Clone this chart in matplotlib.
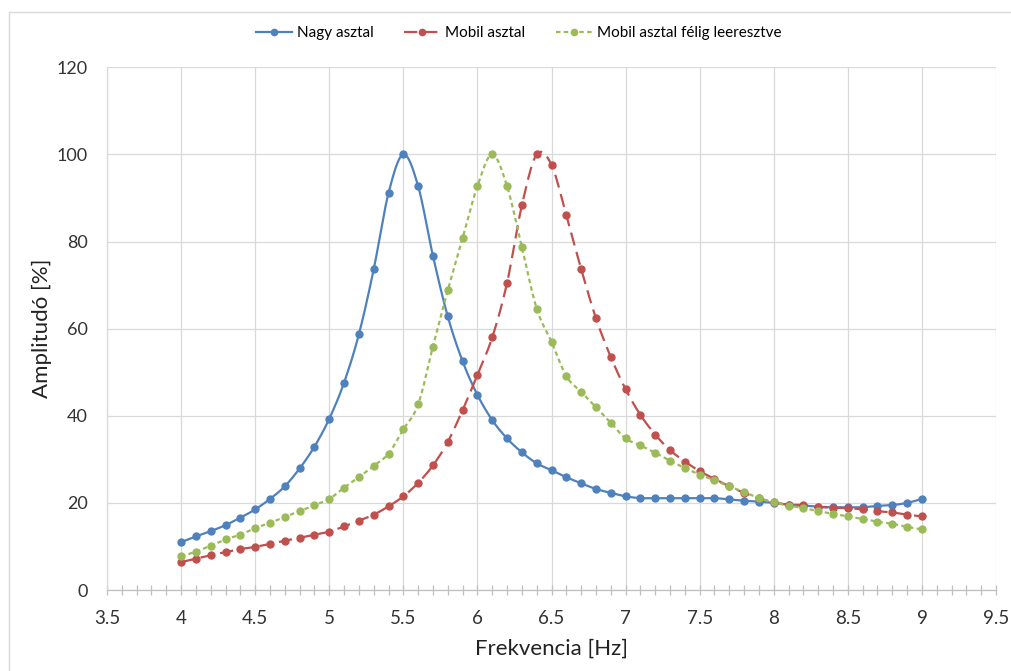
import numpy as np
import matplotlib
matplotlib.use("Agg")
import matplotlib.pyplot as plt
from matplotlib.lines import Line2D
from matplotlib.ticker import MultipleLocator

plt.rcParams['font.family'] = ['Lato', 'DejaVu Sans']

# --- data: amplitude vs. excitation frequency ---
freq = np.round(np.arange(4.0, 9.0001, 0.1), 1)

nagy_asztal = [
    11.0, 12.3, 13.5, 14.9, 16.6, 18.5, 20.9, 23.8, 27.9, 32.9,
    39.3, 47.6, 58.7, 73.6, 91.1, 100.0, 92.7, 76.7, 62.8, 52.5,
    44.8, 39.0, 34.8, 31.6, 29.1, 27.5, 25.9, 24.5, 23.2, 22.3,
    21.5, 21.1, 21.1, 21.1, 21.1, 21.1, 21.1, 20.8, 20.5, 20.3,
    20.0, 19.6, 19.4, 19.1, 19.0, 19.0, 19.0, 19.3, 19.5, 20.0,
    20.9,
]
mobil_asztal = [
    6.4, 7.2, 8.0, 8.7, 9.4, 9.9, 10.6, 11.3, 12.0, 12.7,
    13.4, 14.6, 15.9, 17.3, 19.2, 21.5, 24.6, 28.6, 34.0, 41.3,
    49.4, 58.0, 70.5, 88.3, 100.0, 97.6, 86.0, 73.7, 62.4, 53.5,
    46.1, 40.2, 35.7, 32.1, 29.5, 27.3, 25.5, 23.8, 22.3, 21.1,
    20.1, 19.6, 19.5, 19.1, 18.9, 18.8, 18.5, 18.1, 17.8, 17.3,
    16.9,
]
mobil_felig = [
    7.7, 8.8, 10.2, 11.6, 12.7, 14.2, 15.4, 16.8, 18.1, 19.5,
    20.9, 23.5, 25.9, 28.5, 31.3, 36.9, 42.6, 55.9, 68.8, 80.8,
    92.7, 100.0, 92.7, 78.7, 64.6, 57.0, 49.1, 45.5, 42.0, 38.4,
    34.8, 33.2, 31.5, 29.7, 28.0, 26.5, 25.2, 23.8, 22.5, 21.1,
    20.1, 19.4, 18.8, 18.1, 17.5, 16.9, 16.3, 15.7, 15.2, 14.5,
    13.9,
]

labels = ['Nagy asztal', 'Mobil asztal', 'Mobil asztal félig leeresztve']
colors = ['#4f81bd', '#c0504d', '#9bbb59']
styles = [dict(linestyle='-'),
          dict(linestyle=(0, (6, 3))),
          dict(linestyle=(0, (2, 1.5)))]

SUB = 10  # segments per interval for the smoothed line


def smooth(x, y, n=SUB):
    # Catmull-Rom spline through the measured points (Excel-like smoothing)
    x = np.asarray(x, float)
    y = np.asarray(y, float)
    px = np.concatenate([[2 * x[0] - x[1]], x, [2 * x[-1] - x[-2]]])
    py = np.concatenate([[2 * y[0] - y[1]], y, [2 * y[-1] - y[-2]]])
    t = np.linspace(0, 1, n, endpoint=False)
    xs, ys = [], []
    for i in range(1, len(px) - 2):
        for p, out in ((px, xs), (py, ys)):
            p0, p1, p2, p3 = p[i - 1], p[i], p[i + 1], p[i + 2]
            out.append(0.5 * (2 * p1 + (-p0 + p2) * t
                              + (2 * p0 - 5 * p1 + 4 * p2 - p3) * t ** 2
                              + (-p0 + 3 * p1 - 3 * p2 + p3) * t ** 3))
    xs.append([x[-1]])
    ys.append([y[-1]])
    return np.concatenate(xs), np.concatenate(ys)


fig = plt.figure(figsize=(10.11, 6.71), dpi=100)
ax = fig.add_axes([0.1058, 0.1207, 0.8794, 0.779])

handles = []
for series, lab, col, st in zip([nagy_asztal, mobil_asztal, mobil_felig],
                                labels, colors, styles):
    sx, sy = smooth(freq, series)
    ax.plot(sx, sy, color=col, lw=1.6, marker='o', ms=5,
            markevery=SUB, zorder=3, **st)
    handles.append(Line2D([], [], color=col, lw=1.6, marker='o', ms=4.5, **st))

ax.set_xlim(3.5, 9.5)
ax.set_ylim(0, 120)
ax.xaxis.set_major_locator(MultipleLocator(0.5))
ax.xaxis.set_minor_locator(MultipleLocator(0.1))
ax.yaxis.set_major_locator(MultipleLocator(20))
ax.xaxis.set_major_formatter(plt.FuncFormatter(lambda v, p: f'{v:g}'))

ax.grid(True, which='major', color='#d9d9d9', lw=0.9)
ax.set_axisbelow(True)
for s in ['top', 'right']:
    ax.spines[s].set_visible(False)
ax.spines['left'].set_color('#d9d9d9')
ax.spines['bottom'].set_color('#bfbfbf')
ax.spines['left'].set_linewidth(0.9)
ax.spines['bottom'].set_linewidth(0.9)

ax.tick_params(axis='x', which='both', direction='inout', length=7,
               color='#bfbfbf', width=0.9)
ax.tick_params(axis='x', which='major', labelsize=13.5, pad=11,
               labelcolor='#333333')
ax.tick_params(axis='y', length=0, labelsize=13, pad=14,
               labelcolor='#333333')

ax.set_xlabel('Frekvencia [Hz]', fontsize=16, color='#222222', labelpad=8)
ax.set_ylabel('Amplitudó [%]', fontsize=16, color='#222222', labelpad=3)

fig.legend(handles, labels, loc='center', bbox_to_anchor=(0.513, 0.951),
           ncol=3, frameon=False, fontsize=11, handlelength=2.4,
           handletextpad=0.3, columnspacing=2.0, numpoints=1)

# outer chart frame
fig.add_artist(Line2D([9 / 1011, 9 / 1011], [0, 1 - 12 / 671],
                      transform=fig.transFigure, color='#d9d9d9', lw=1))
fig.add_artist(Line2D([9 / 1011, 1], [1 - 12 / 671, 1 - 12 / 671],
                      transform=fig.transFigure, color='#d9d9d9', lw=1))

fig.savefig('out.png', dpi=100)
